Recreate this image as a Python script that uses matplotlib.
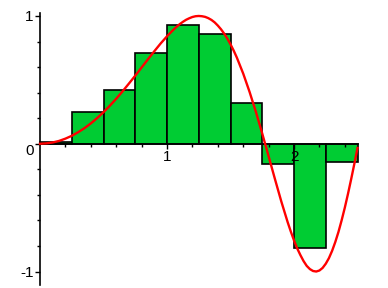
import matplotlib
matplotlib.use("Agg")
import matplotlib.pyplot as plt
from matplotlib.ticker import FixedLocator

plt.rcParams['font.family'] = ['Liberation Sans', 'DejaVu Sans']

# Riemann-sum bars: left edges and heights
barLeft = [0.0, 0.25, 0.5, 0.75, 1.0, 1.25, 1.5, 1.75, 2.0, 2.25]
barHeight = [0.015, 0.25, 0.42, 0.71, 0.93, 0.855, 0.32, -0.16, -0.815, -0.14]
barWidth = 0.25

# red curve, points (denser near the peaks)
curveX = [0.0, 0.05, 0.1, 0.15, 0.2, 0.25, 0.3, 0.35, 0.4, 0.45,
          0.5, 0.55, 0.6, 0.65, 0.7, 0.75, 0.8, 0.85, 0.9, 0.95,
          1.0, 1.05, 1.075, 1.1, 1.125, 1.15, 1.175, 1.2, 1.225, 1.25,
          1.275, 1.3, 1.325, 1.35, 1.375, 1.4, 1.425, 1.45, 1.475, 1.5,
          1.525, 1.55, 1.6, 1.65, 1.7, 1.75, 1.8, 1.85, 1.9, 1.95,
          1.975, 2.0, 2.025, 2.05, 2.075, 2.1, 2.125, 2.15, 2.175, 2.2,
          2.225, 2.25, 2.275, 2.3, 2.325, 2.35, 2.375, 2.4, 2.425, 2.45,
          2.475, 2.5]
curveY = [0.0, 0.003, 0.01, 0.022, 0.04, 0.062, 0.09, 0.122, 0.159, 0.201,
          0.247, 0.298, 0.352, 0.41, 0.471, 0.533, 0.597, 0.661, 0.724, 0.785,
          0.841, 0.892, 0.915, 0.936, 0.954, 0.97, 0.982, 0.992, 0.998, 1.0,
          0.998, 0.993, 0.983, 0.969, 0.95, 0.925, 0.896, 0.862, 0.823, 0.778,
          0.729, 0.674, 0.549, 0.406, 0.249, 0.079, -0.098, -0.277, -0.452, -0.614,
          -0.688, -0.757, -0.819, -0.871, -0.918, -0.956, -0.981, -0.996, -1.0, -0.992,
          -0.972, -0.939, -0.895, -0.838, -0.769, -0.69, -0.599, -0.5, -0.392, -0.277,
          -0.157, -0.033]

xMinorTicks = [0.2, 0.4, 0.6, 0.8, 1.2, 1.4, 1.6, 1.8, 2.2, 2.4]
yMinorTicks = [-0.8, -0.6, -0.4, -0.2, 0.2, 0.4, 0.6, 0.8]

fig = plt.figure(figsize=(3.88, 2.88), dpi=100)
ax = fig.add_axes([0, 0, 1, 1])

ax.bar(barLeft, barHeight, width=barWidth, align='edge',
       color='#00cc33', edgecolor='black', linewidth=1.2, zorder=1)
ax.plot(curveX, curveY, color='#ff0000', linewidth=1.7, zorder=3)

ax.set_xlim(-0.315, 2.74)
ax.set_ylim(-1.129, 1.125)

# Maple-like axes through the origin
for side in ['top', 'right']:
    ax.spines[side].set_visible(False)
ax.spines['left'].set_position(('data', 0))
ax.spines['bottom'].set_position(('data', 0))
ax.spines['left'].set_bounds(-1.106, 1.027)
ax.spines['bottom'].set_bounds(0, 2.5)
ax.spines['left'].set_linewidth(1.2)
ax.spines['bottom'].set_linewidth(1.2)

ax.xaxis.set_major_locator(FixedLocator([1, 2]))
ax.xaxis.set_minor_locator(FixedLocator(xMinorTicks))
ax.yaxis.set_major_locator(FixedLocator([-1, 0, 1]))
ax.yaxis.set_minor_locator(FixedLocator(yMinorTicks))
ax.set_yticklabels(['-1', '0', '1'])
ax.set_xticklabels(['1', '2'])

ax.tick_params(which='major', direction='out', length=3.5, width=1, labelsize=11, pad=1)
ax.tick_params(which='minor', direction='out', length=2, width=1)
ax.set_axisbelow(False)

# the "0" sits just under the x axis in the original
ax.get_yticklabels()[1].set_verticalalignment('top')

fig.savefig('out.png', dpi=100)
